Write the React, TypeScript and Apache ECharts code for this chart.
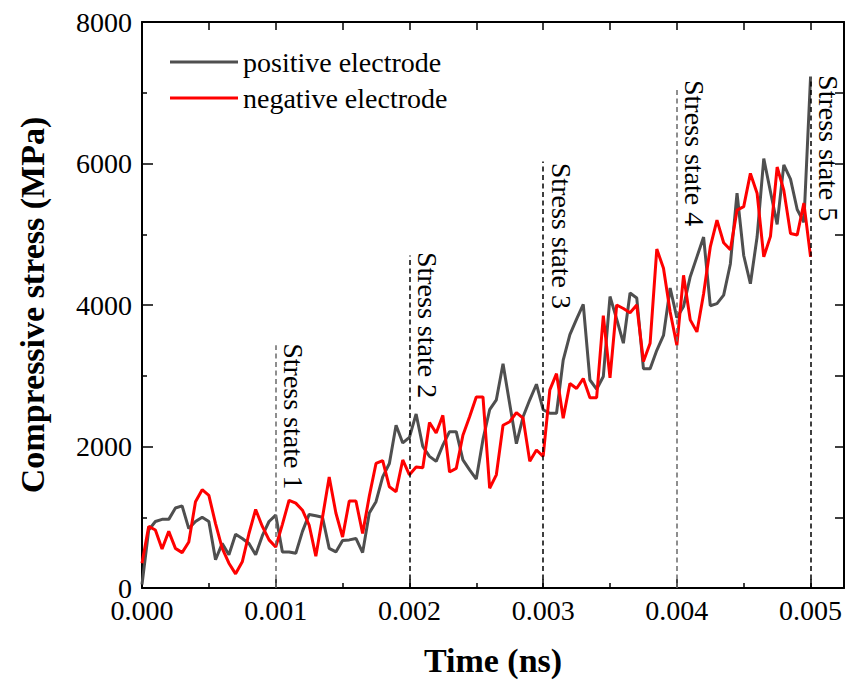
import React, { useEffect, useRef } from "react";
import * as echarts from "echarts";

// Sampling step of the simulation output (ns)
const STEP = 0.00005;

// Compressive stress (MPa), one value per step from 0 to 0.005 ns
const positiveElectrode = [
  50, 820, 940, 970, 970, 1130, 1160, 840, 940, 1000,
  940, 400, 630, 470, 760, 700, 630, 470, 740, 940,
  1030, 510, 510, 490, 800, 1040, 1020, 1000, 560, 510,
  670, 680, 700, 500, 1060, 1220, 1570, 1760, 2300, 2050,
  2130, 2460, 2000, 1860, 1790, 2020, 2210, 2210, 1810, 1670,
  1540, 2100, 2520, 2660, 3170, 2600, 2040, 2420, 2660, 2880,
  2520, 2470, 2470, 3220, 3580, 3800, 4010, 2940, 2810, 2990,
  4120, 3800, 3460, 4170, 4100, 3100, 3100, 3360, 3570, 4240,
  3820, 3980, 4400, 4680, 4960, 3990, 4020, 4140, 4580, 5580,
  4700, 4300, 4960, 6070, 5600, 5140, 5980, 5780, 5350, 5170,
  7230,
];

const negativeElectrode = [
  350, 870, 820, 550, 800, 560, 500, 650, 1220, 1390,
  1310, 910, 560, 350, 200, 370, 770, 1110, 870, 680,
  580, 900, 1240, 1200, 1100, 890, 450, 1000, 1570, 1060,
  720, 1230, 1230, 770, 1300, 1760, 1800, 1430, 1360, 1810,
  1600, 1710, 1700, 2340, 2190, 2440, 1640, 1690, 2160, 2420,
  2700, 2700, 1410, 1600, 2300, 2350, 2480, 2400, 1790, 1950,
  1860, 2800, 3030, 2400, 2890, 2820, 2960, 2690, 2690, 3850,
  2970, 4000, 3950, 3890, 4000, 3200, 3460, 4790, 4520, 3900,
  3430, 4420, 3790, 3620, 4160, 4820, 5200, 4880, 4780, 5340,
  5390, 5860, 5580, 4680, 4970, 5950, 5620, 5010, 4990, 5440,
  4680,
];

const seriesNames = ["positive electrode", "negative electrode"];

// Stress-state annotations
const stateTimes = [0.001, 0.002, 0.003, 0.004, 0.005];
const stateLabels = ["Stress state 1", "Stress state 2", "Stress state 3", "Stress state 4", "Stress state 5"];
const stateLineTops = [3430, 4700, 6030, 7050, 7200];
const stateLabelTops = [3460, 4750, 6010, 7180, 7250];

// Axis ranges
const X_MIN = 0;
const X_MAX = 0.00525;
const X_INTERVAL = 0.001;
const Y_MIN = 0;
const Y_MAX = 8000;
const Y_INTERVAL = 2000;

// Styles
const FONT = '"Liberation Serif", "Times New Roman", serif';
const GRAY = "#4f4f4f";
const RED = "#ff0000";
const stateLineColors = ["#6a6a6a", "#000000", "#000000", "#6a6a6a", "#000000"];
const LABEL_OFFSET = 18;

export default function App() {
  const ref = useRef<HTMLDivElement | null>(null);

  useEffect(() => {
    if (!ref.current) return;
    const chart = echarts.init(ref.current, null, { renderer: "svg" });
    const times = positiveElectrode.map((_, i) => i * STEP);

    const axisLine = { show: true, onZero: false, lineStyle: { color: "#000", width: 2 } };
    const tickStyle = { color: "#000", width: 1.5 };

    const option: any = {
      animation: false,
      backgroundColor: "#fff",
      grid: { left: 142, right: 2, top: 22, bottom: 96, containLabel: false },
      legend: {
        orient: "vertical",
        left: 165,
        top: 43,
        itemWidth: 68,
        itemHeight: 3,
        itemGap: 8,
        icon: "rect",
        data: seriesNames.map((n) => ({ name: n, icon: "rect" })),
        textStyle: { fontFamily: FONT, fontSize: 28, color: "#000" },
      },
      xAxis: [
        {
          type: "value",
          position: "bottom",
          min: X_MIN,
          max: X_MAX,
          interval: X_INTERVAL,
          axisLine,
          axisTick: { show: true, inside: true, length: 9, lineStyle: tickStyle },
          minorTick: { show: true, splitNumber: 2, length: 5, lineStyle: tickStyle },
          splitLine: { show: false },
          minorSplitLine: { show: false },
          axisLabel: {
            fontFamily: FONT,
            fontSize: 28,
            color: "#000",
            margin: 8,
            showMaxLabel: false,
            formatter: (v: number) =>
              Math.abs(v / X_INTERVAL - Math.round(v / X_INTERVAL)) < 1e-6 ? v.toFixed(3) : "",
          },
          name: "Time (ns)",
          nameLocation: "middle",
          nameGap: 55,
          nameTextStyle: { fontFamily: FONT, fontSize: 34, fontWeight: "bold", color: "#000" },
        },
        {
          type: "value",
          position: "top",
          min: X_MIN,
          max: X_MAX,
          interval: X_INTERVAL / 2,
          axisLine,
          axisTick: { show: true, inside: true, length: 8, lineStyle: tickStyle },
          axisLabel: { show: false },
          splitLine: { show: false },
        },
      ],
      yAxis: [
        {
          type: "value",
          position: "left",
          min: Y_MIN,
          max: Y_MAX,
          interval: Y_INTERVAL,
          axisLine,
          axisTick: { show: true, inside: true, length: 11, lineStyle: tickStyle },
          minorTick: { show: true, splitNumber: 2, length: 5, lineStyle: tickStyle },
          splitLine: { show: false },
          minorSplitLine: { show: false },
          axisLabel: {
            fontFamily: FONT,
            fontSize: 28,
            color: "#000",
            margin: 10,
            formatter: (v: number) => String(Math.round(v)),
          },
          name: "Compressive stress (MPa)",
          nameLocation: "middle",
          nameGap: 93,
          nameTextStyle: { fontFamily: FONT, fontSize: 34, fontWeight: "bold", color: "#000" },
        },
        {
          type: "value",
          position: "right",
          min: Y_MIN,
          max: Y_MAX,
          interval: Y_INTERVAL / 2,
          axisLine,
          axisTick: { show: true, inside: true, length: 9, lineStyle: tickStyle },
          axisLabel: { show: false },
          splitLine: { show: false },
        },
      ],
      series: [
        {
          name: seriesNames[0],
          type: "line",
          xAxisIndex: 0,
          yAxisIndex: 0,
          symbol: "none",
          data: times.map((t, i) => [t, positiveElectrode[i]]),
          lineStyle: { color: GRAY, width: 3 },
          itemStyle: { color: GRAY },
          z: 3,
          markLine: {
            silent: true,
            symbol: ["none", "none"],
            label: { show: false },
            animation: false,
            data: stateTimes.map((t, i) => [
              { coord: [t, Y_MIN], lineStyle: { color: stateLineColors[i], width: 1.5, type: [5, 3.5] } },
              { coord: [t, stateLineTops[i]] },
            ]),
          },
        },
        {
          name: seriesNames[1],
          type: "line",
          xAxisIndex: 0,
          yAxisIndex: 0,
          symbol: "none",
          data: times.map((t, i) => [t, negativeElectrode[i]]),
          lineStyle: { color: RED, width: 3 },
          itemStyle: { color: RED },
          z: 4,
        },
      ],
    };

    chart.setOption(option);

    const graphics = stateTimes.map((t, i) => {
      const p = chart.convertToPixel({ gridIndex: 0 }, [t, stateLabelTops[i]]) as number[];
      return {
        type: "text",
        x: p[0] + LABEL_OFFSET,
        y: p[1],
        rotation: -Math.PI / 2,
        z: 100,
        style: {
          text: stateLabels[i],
          fill: "#000",
          font: `28px ${FONT}`,
          textAlign: "left",
          textVerticalAlign: "middle",
          align: "left",
          verticalAlign: "middle",
        },
      };
    });
    chart.setOption({ graphic: graphics });

    return () => chart.dispose();
  }, []);

  return (
    <div
      ref={ref}
      style={{ position: "fixed", left: 0, top: 0, width: 846, height: 684, background: "#fff" }}
    />
  );
}
